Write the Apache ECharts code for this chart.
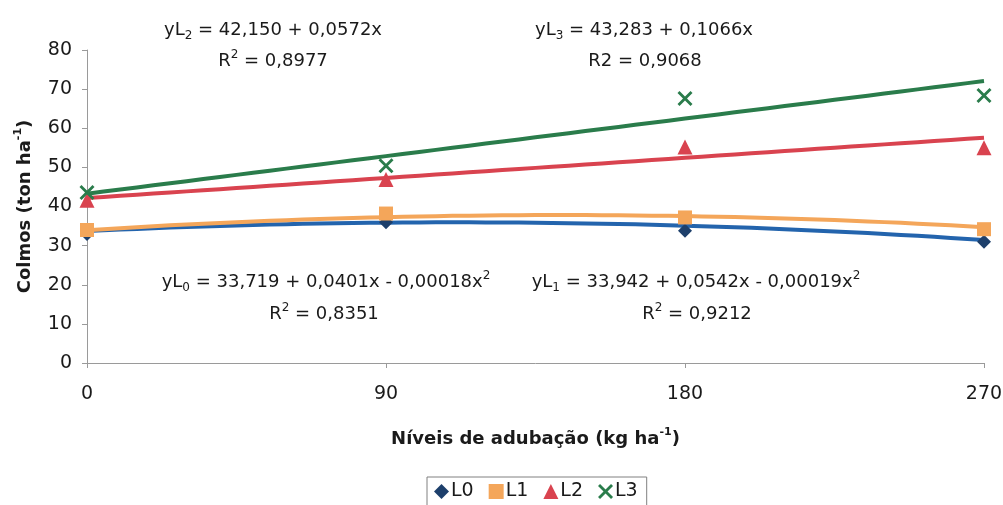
<!DOCTYPE html>
<html>
<head>
<meta charset="utf-8">
<script src="https://cdn.jsdelivr.net/npm/echarts@6/dist/echarts.min.js"></script>
<style>
  html, body { margin: 0; padding: 0; background: #fff; }
  #chart { width: 1003px; height: 505px; }
</style>
</head>
<body>
<div id="chart"></div>
<script>
// Fertiliser levels (kg/ha) and culm yield (ton/ha) per treatment
const doses = [0, 90, 180, 270];
const xTicks = [0, 90, 180, 270];
const seriesNames = ['L0', 'L1', 'L2', 'L3'];
const valuesL0 = [33.0, 36.0, 33.8, 31.0];
const valuesL1 = [34.0, 38.2, 37.2, 34.2];
const valuesL2 = [41.6, 46.9, 55.2, 55.0];
const valuesL3 = [43.6, 50.4, 67.6, 68.4];

// Fitted regression coefficients [a, b, c] for y = a + b·x + c·x²
const fitL0 = [33.719, 0.0401, -0.00018];
const fitL1 = [33.942, 0.0542, -0.00019];
const fitL2 = [42.150, 0.0572, 0];
const fitL3 = [43.283, 0.1066, 0];

const colors = {
  L0: { line: '#2364ad', mark: '#1d3f6b' },
  L1: { line: '#f4a65a', mark: '#f4a65a' },
  L2: { line: '#d9434f', mark: '#d9434f' },
  L3: { line: '#2a7c4b', mark: '#2a7c4b' }
};

const FONT = '"DejaVu Sans", "Liberation Sans", Arial, sans-serif';
const TXT = '#1a1a1a';
const crossPath = 'path://M0,1.6L1.6,0L6,4.4L10.4,0L12,1.6L7.6,6L12,10.4L10.4,12L6,7.6L1.6,12L0,10.4L4.4,6Z';

function fitCurve(coef) {
  const pts = [];
  for (let x = 0; x <= 270; x += 5) {
    pts.push([x, coef[0] + coef[1] * x + coef[2] * x * x]);
  }
  return pts;
}

function pairs(vals) {
  return doses.map((d, i) => [d, vals[i]]);
}

const richStyles = {
  n: { fontSize: 18, fontFamily: FONT, color: TXT, lineHeight: 24 },
  sub: { fontSize: 12, fontFamily: FONT, color: TXT, verticalAlign: 'bottom', lineHeight: 13 },
  sup: { fontSize: 12, fontFamily: FONT, color: TXT, verticalAlign: 'top', lineHeight: 12 }
};

function eqText(cx, cy, str) {
  return {
    type: 'text',
    x: cx,
    y: cy,
    style: {
      text: str,
      rich: richStyles,
      font: '18px ' + FONT,
      fill: TXT,
      align: 'center',
      verticalAlign: 'middle',
      textAlign: 'center',
      textVerticalAlign: 'middle'
    }
  };
}

const markerSymbols = ['diamond', 'rect', 'triangle', crossPath];
const markerSizes = [14, 14, 15, 15];
const valueSets = [valuesL0, valuesL1, valuesL2, valuesL3];
const fits = [fitL0, fitL1, fitL2, fitL3];

const series = [];
seriesNames.forEach((name, i) => {
  series.push({
    name: 'ajuste ' + name,
    type: 'line',
    data: fitCurve(fits[i]),
    showSymbol: false,
    symbol: 'none',
    lineStyle: { color: colors[name].line, width: 4 },
    z: 2 + i,
    silent: true
  });
});
seriesNames.forEach((name, i) => {
  series.push({
    name: name,
    type: 'scatter',
    data: pairs(valueSets[i]),
    symbol: markerSymbols[i],
    symbolSize: markerSizes[i],
    itemStyle: { color: colors[name].mark, opacity: 1 },
    z: 10
  });
});

const titleRich = {
  b: { fontSize: 18, fontWeight: 'bold', fontFamily: FONT, color: TXT, lineHeight: 24 },
  s: { fontSize: 11, fontWeight: 'bold', fontFamily: FONT, color: TXT, verticalAlign: 'top', lineHeight: 12 }
};

const chart = echarts.init(document.getElementById('chart'), null, { renderer: 'canvas' });
chart.setOption({
  animation: false,
  backgroundColor: '#fff',
  grid: { left: 87, right: 19, top: 50, bottom: 142, containLabel: false, outerBoundsMode: 'none' },
  xAxis: {
    type: 'value',
    min: 0,
    max: 270,
    interval: 90,
    name: '{b|Níveis de adubação (kg ha}{s|-1}{b|)}',
    nameLocation: 'middle',
    nameGap: 64,
    nameTextStyle: { rich: titleRich },
    axisLine: { show: true, lineStyle: { color: '#9a9a9a', width: 1 } },
    axisTick: { show: true, length: 5, lineStyle: { color: '#9a9a9a' } },
    axisLabel: {
      fontSize: 19, fontFamily: FONT, color: TXT, margin: 22,
      formatter: v => (xTicks.indexOf(v) >= 0 ? String(v) : '')
    },
    splitLine: { show: false }
  },
  yAxis: {
    type: 'value',
    min: 0,
    max: 80,
    interval: 10,
    name: '{b|Colmos (ton ha}{s|-1}{b|)}',
    nameLocation: 'middle',
    nameGap: 50,
    nameRotate: 90,
    nameTextStyle: { rich: titleRich },
    axisLine: { show: true, lineStyle: { color: '#9a9a9a', width: 1 } },
    axisTick: { show: true, length: 5, lineStyle: { color: '#9a9a9a' } },
    axisLabel: { fontSize: 19, fontFamily: FONT, color: TXT, margin: 15 },
    splitLine: { show: false }
  },
  legend: {
    data: seriesNames.map((n, i) => ({ name: n, icon: i === 3 ? crossPath : markerSymbols[i] })),
    left: 427,
    top: 477,
    itemWidth: 15,
    itemHeight: 15,
    itemGap: 15,
    padding: [5, 9, 5, 7],
    borderColor: '#808080',
    borderWidth: 1,
    borderRadius: 0,
    textStyle: { fontSize: 19, fontFamily: FONT, color: TXT, padding: [0, 0, 0, -3] }
  },
  graphic: [
    eqText(273, 30, '{n|yL}{sub|2}{n| = 42,150 + 0,0572x}'),
    eqText(273, 61, '{n|R}{sup|2}{n| = 0,8977}'),
    eqText(644, 30, '{n|yL}{sub|3}{n| = 43,283 + 0,1066x}'),
    eqText(645, 61, '{n|R2 = 0,9068}'),
    eqText(326, 282, '{n|yL}{sub|0}{n| = 33,719 + 0,0401x - 0,00018x}{sup|2}'),
    eqText(324, 314, '{n|R}{sup|2}{n| = 0,8351}'),
    eqText(696, 282, '{n|yL}{sub|1}{n| = 33,942 + 0,0542x - 0,00019x}{sup|2}'),
    eqText(697, 314, '{n|R}{sup|2}{n| = 0,9212}')
  ],
  series: series
});
</script>
</body>
</html>
